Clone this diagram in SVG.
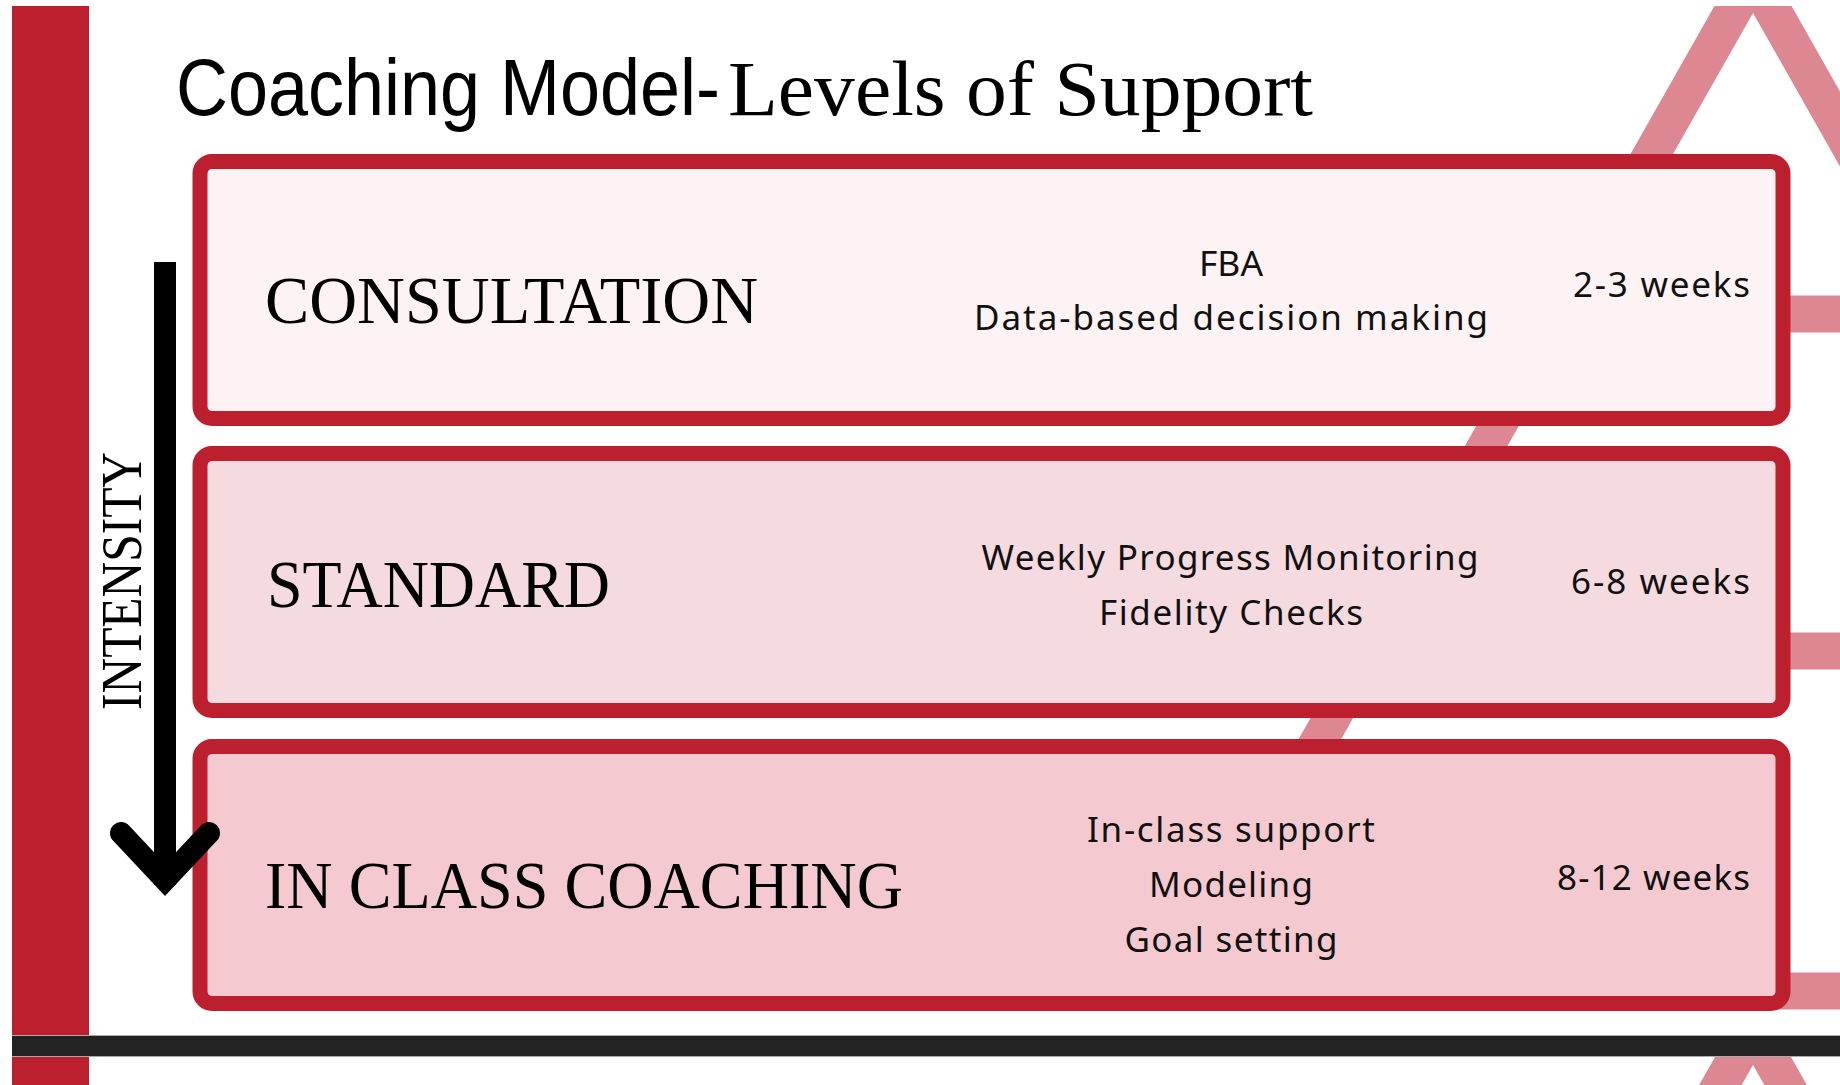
<svg xmlns="http://www.w3.org/2000/svg" width="1840" height="1085" viewBox="0 0 1840 1085">
  <style>
    .box { stroke: #bc202f; stroke-width: 15; }
    .lvl { font-family: "Liberation Serif", "Times New Roman", serif; font-size: 68px; fill: #000; }
    .det { font-family: "Noto Sans", "Liberation Sans", sans-serif; font-size: 35px; fill: #111; text-anchor: middle; }
    .dur { font-family: "Noto Sans", "Liberation Sans", sans-serif; font-size: 35px; fill: #111; text-anchor: end; }
    .tri { fill: none; stroke: #dd8793; stroke-width: 37; stroke-linejoin: miter; stroke-miterlimit: 10; }
  </style>
  <defs>
    <clipPath id="slide1"><rect x="12" y="6" width="1828" height="1029"/></clipPath>
    <clipPath id="slide2"><rect x="12" y="1057" width="1828" height="28"/></clipPath>
    <g id="pyr">
      <polygon class="tri" points="1753,-24.5 2329,991 1177,991"/>
      <line class="tri" x1="1561" y1="314" x2="1945" y2="314"/>
      <line class="tri" x1="1370" y1="651" x2="2136" y2="651"/>
    </g>
  </defs>
  <rect width="1840" height="1085" fill="#ffffff"/>

  <g id="background">
    <g clip-path="url(#slide1)"><use href="#pyr"/></g>
    <g clip-path="url(#slide2)"><use href="#pyr" transform="translate(0,1052)"/></g>
    <rect x="12" y="6" width="77" height="1079" fill="#bc202f"/>
  </g>

  <g id="title">
    <text x="176" y="115" font-family="Liberation Sans, Arial, sans-serif" font-size="80" textLength="544" lengthAdjust="spacingAndGlyphs" fill="#000">Coaching Model-</text>
    <text x="728" y="115" font-family="Liberation Serif, Times New Roman, serif" font-size="79" textLength="585" lengthAdjust="spacingAndGlyphs" fill="#000">Levels of Support</text>
  </g>

  <g id="node-consultation">
    <rect class="box" x="200" y="161.5" width="1583" height="257" rx="12" fill="#fdf3f4"/>
    <text class="lvl" x="265" y="323" textLength="493" lengthAdjust="spacingAndGlyphs">CONSULTATION</text>
    <text class="det" x="1231" y="276" textLength="64" lengthAdjust="spacingAndGlyphs">FBA</text>
    <text class="det" x="1231" y="330" textLength="514" lengthAdjust="spacing">Data-based decision making</text>
    <text class="dur" x="1750" y="297" textLength="177" lengthAdjust="spacing">2-3 weeks</text>
  </g>

  <g id="node-standard">
    <rect class="box" x="200" y="453.5" width="1583" height="257" rx="12" fill="#f5dadf"/>
    <text class="lvl" x="267" y="607" textLength="343" lengthAdjust="spacingAndGlyphs">STANDARD</text>
    <text class="det" x="1230" y="570" textLength="497" lengthAdjust="spacing">Weekly Progress Monitoring</text>
    <text class="det" x="1231" y="625" textLength="264" lengthAdjust="spacing">Fidelity Checks</text>
    <text class="dur" x="1750" y="594" textLength="179" lengthAdjust="spacing">6-8 weeks</text>
  </g>

  <g id="node-inclass">
    <rect class="box" x="200" y="746.5" width="1583" height="257" rx="12" fill="#f4cad0"/>
    <text class="lvl" x="265" y="908" textLength="638" lengthAdjust="spacingAndGlyphs">IN CLASS COACHING</text>
    <text class="det" x="1231" y="842" textLength="288" lengthAdjust="spacing">In-class support</text>
    <text class="det" x="1231" y="897" textLength="164" lengthAdjust="spacing">Modeling</text>
    <text class="det" x="1231" y="952" textLength="213" lengthAdjust="spacing">Goal setting</text>
    <text class="dur" x="1750" y="890" textLength="193" lengthAdjust="spacing">8-12 weeks</text>
  </g>

  <g id="connectors">
    <line x1="165" y1="262" x2="165" y2="885" stroke="#000" stroke-width="22"/>
    <polyline points="121,833 165,880 209,833" fill="none" stroke="#000" stroke-width="22" stroke-linecap="round" stroke-linejoin="miter"/>
  </g>

  <g id="intensity-label">
    <text transform="translate(141,581) rotate(-90)" text-anchor="middle" font-family="Liberation Serif, Times New Roman, serif" font-size="57" textLength="258" lengthAdjust="spacingAndGlyphs" fill="#000">INTENSITY</text>
  </g>

  <g id="separator">
    <rect x="12" y="1035" width="1828" height="22" fill="#222222"/>
    <line x1="12" y1="1035.5" x2="1840" y2="1035.5" stroke="#aaaaaa" stroke-width="1"/>
    <line x1="12" y1="1056.5" x2="1840" y2="1056.5" stroke="#aaaaaa" stroke-width="1"/>
  </g>
</svg>
